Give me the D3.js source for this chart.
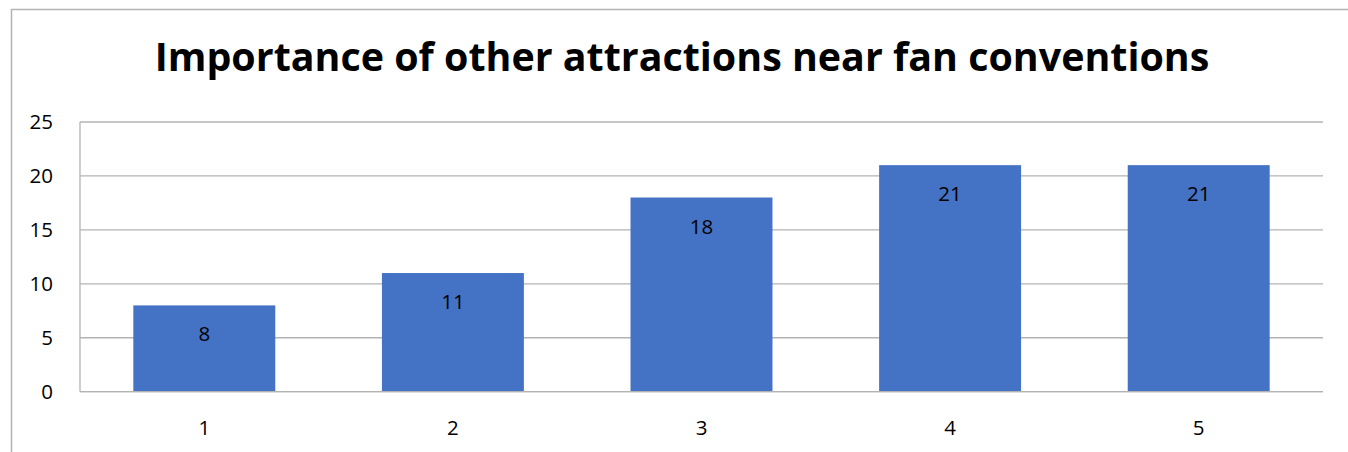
<!DOCTYPE html>
<html>
<head>
<meta charset="utf-8">
<script src="https://cdn.jsdelivr.net/npm/d3@7"></script>
<style>
  body { margin: 0; background: #fff; }
  text { font-family: "Open Sans", "Noto Sans", sans-serif; }
</style>
</head>
<body>
<div id="chart"></div>
<script>
// chart data
var categories = ["1", "2", "3", "4", "5"];
var values = [8, 11, 18, 21, 21];
var yTicks = [0, 5, 10, 15, 20, 25];
var chartTitle = "Importance of other attractions near fan conventions";

//set svg dimensions
var svgWidth = 1348;
var svgHeight = 452;

//plot area borders
var margin = { top: 122, right: 25, bottom: 60, left: 80 };
var width = svgWidth - margin.left - margin.right;
var height = 391.7 - margin.top;

var svg = d3.select("#chart").append("svg")
    .attr("width", svgWidth)
    .attr("height", svgHeight);

// outer chart border
svg.append("rect")
    .attr("x", 11.5)
    .attr("y", 9.5)
    .attr("width", svgWidth + 10)
    .attr("height", svgHeight + 10)
    .attr("fill", "none")
    .attr("stroke", "#b3b3b3")
    .attr("stroke-width", 1.5);

// title, shrunk to fit the reference width
var title = svg.append("text")
    .attr("x", 682)
    .attr("y", 71)
    .attr("text-anchor", "middle")
    .attr("font-weight", "bold")
    .attr("font-size", 38)
    .attr("fill", "#000")
    .text(chartTitle);
var tw = title.node().getComputedTextLength();
title.attr("font-size", 38 * 1055 / tw);

var chartGroup = svg.append("g")
    .attr("transform", `translate(${margin.left}, ${margin.top})`);

// scales
var xScale = d3.scaleBand()
    .domain(categories)
    .range([0, width])
    .padding(0);

var yScale = d3.scaleLinear()
    .domain([0, 25])
    .range([height, 0]);

var barWidth = xScale.bandwidth() * 0.571;

// gridlines
chartGroup.append("g")
    .selectAll("line")
    .data(yTicks)
    .enter()
    .append("line")
    .attr("x1", 0)
    .attr("x2", width)
    .attr("y1", d => yScale(d))
    .attr("y2", d => yScale(d))
    .attr("stroke", "#b3b3b3")
    .attr("stroke-width", 1.3);

// left plot border
chartGroup.append("line")
    .attr("x1", 0).attr("x2", 0)
    .attr("y1", 0).attr("y2", height)
    .attr("stroke", "#b3b3b3")
    .attr("stroke-width", 1.3);

// bars
chartGroup.selectAll(".bar")
    .data(values)
    .enter()
    .append("rect")
    .classed("bar", true)
    .attr("x", (d, i) => xScale(categories[i]) + (xScale.bandwidth() - barWidth) / 2)
    .attr("y", d => yScale(d))
    .attr("width", barWidth)
    .attr("height", d => height - yScale(d))
    .attr("fill", "#4472c4");

// bottom axis line over bars
chartGroup.append("line")
    .attr("x1", 0).attr("x2", width)
    .attr("y1", height).attr("y2", height)
    .attr("stroke", "#b3b3b3")
    .attr("stroke-width", 1.3);

// value labels
chartGroup.selectAll(".barText")
    .data(values)
    .enter()
    .append("text")
    .classed("barText", true)
    .attr("x", (d, i) => xScale(categories[i]) + xScale.bandwidth() / 2)
    .attr("y", d => yScale(d) + 36)
    .attr("text-anchor", "middle")
    .attr("font-size", 20.5)
    .attr("fill", "#000")
    .text(d => d);

// y axis
var yAxis = d3.axisLeft(yScale).tickValues(yTicks).tickSize(0).tickPadding(27);
chartGroup.append("g")
    .call(yAxis)
    .call(g => g.select(".domain").remove())
    .selectAll("text")
    .attr("font-size", 20.5)
    .attr("fill", "#000")
    .style("font-family", "'Open Sans', sans-serif");

// x axis
var xAxis = d3.axisBottom(xScale).tickSize(0).tickPadding(29);
chartGroup.append("g")
    .attr("transform", `translate(0, ${height})`)
    .call(xAxis)
    .call(g => g.select(".domain").remove())
    .selectAll("text")
    .attr("font-size", 20.5)
    .attr("fill", "#000")
    .style("font-family", "'Open Sans', sans-serif");
</script>
</body>
</html>
